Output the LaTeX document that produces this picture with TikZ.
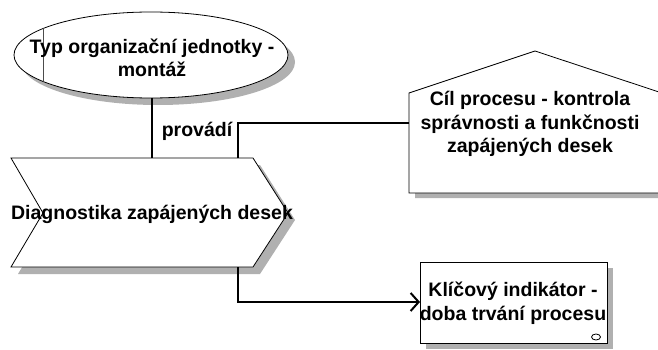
\documentclass[tikz,border=0pt]{standalone}
\usepackage{fontspec}
\setmainfont{Liberation Sans}
\usetikzlibrary{arrows.meta}
\begin{document}
\begin{tikzpicture}[x=1pt,y=-1pt,
  shapeline/.style={draw=black, line width=0.8pt, fill=white},
  shadowfill/.style={fill=black!31, draw=none},
  conn/.style={draw=black, line width=2pt},
  lbl/.style={font=\fontsize{19.5}{23.5}\selectfont\bfseries, align=center, inner sep=0pt}]
\path[use as bounding box] (0,0) rectangle (658,350);
\clip (0,0) rectangle (658,350);
% shadows
\fill[shadowfill] (158,62) ellipse [x radius=137pt, y radius=43pt];
\fill[shadowfill] (18,165) -- (260,165) -- (295,220) -- (260,274) -- (18,274) -- (50,220) -- cycle;
\fill[shadowfill] (415,100) -- (542,58) -- (669,100) -- (669,198) -- (415,198) -- cycle;
\fill[shadowfill] (426,268) rectangle (613,349);
% shapes
\draw[shapeline] (151,55) ellipse [x radius=137pt, y radius=43pt];
\begin{scope}
  \clip (151,55) ellipse [x radius=137pt, y radius=43pt];
  \draw[black!70, line width=0.8pt] (43,0) -- (43,110);
\end{scope}
\draw[shapeline] (11,158) -- (253,158) -- (288,213) -- (253,267) -- (11,267) -- (43,213) -- cycle;
\draw[shapeline] (409,93) -- (535,51) -- (662,93) -- (662,193) -- (409,193) -- cycle;
\draw[shapeline] (420,262) rectangle (607,343);
\draw[black, line width=0.8pt] (596,337) ellipse [x radius=4.5pt, y radius=3pt];
% connector ends
\coordinate (ellS) at (152,98);
\coordinate (chT1) at (152,158);
\coordinate (chT2) at (238,158);
\coordinate (houseW) at (409,123);
\coordinate (chB) at (238,267);
\coordinate (boxW) at (420,302);
\draw[conn] (ellS) -- (chT1);
\draw[conn] (chT2) |- (houseW);
\draw[conn, -{Straight Barb[length=8pt,width=18pt]}] (chB) |- (boxW);
% texts
\node[lbl] (tEll) at (152,58) {Typ organizační jednotky -\\montáž};
\node[lbl] (tProv) at (197,131) {provádí};
\node[lbl] (tCh) at (152,214) {Diagnostika zapájených desek};
\node[lbl] (tHouse) at (530,124) {Cíl procesu - kontrola\\správnosti a funkčnosti\\zapájených desek};
\node[lbl] (tBox) at (513,303) {Klíčový indikátor -\\doba trvání procesu};
\end{tikzpicture}
\end{document}
